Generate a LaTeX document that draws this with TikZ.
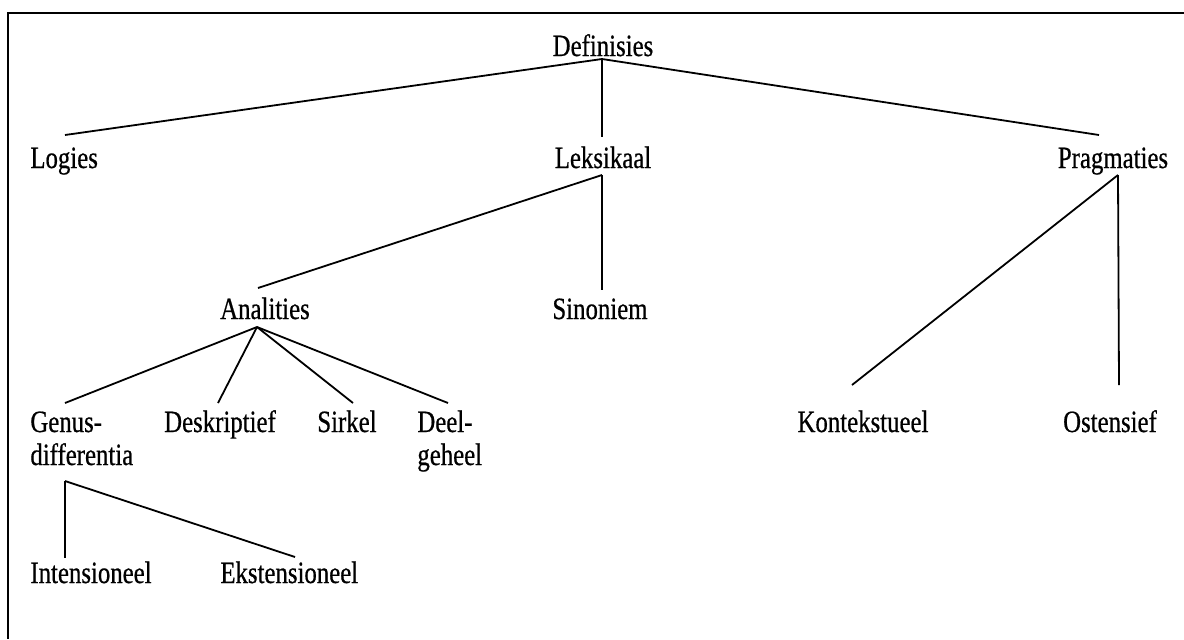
\documentclass[tikz,border=0pt]{standalone}
\usepackage{fontspec}
\setmainfont{Liberation Serif}[FakeStretch=0.8, FakeBold=0.6]
\usetikzlibrary{calc}

\tikzset{
	term/.style={inner sep=0pt, anchor=base, font=\fontsize{15.5pt}{16.5pt}\selectfont},
	termleft/.style={term, anchor=base west, align=left},
	branch/.style={line width=0.9pt},
}

\begin{document}
\begin{tikzpicture}[x=0.5pt, y=-0.5pt]
	%%%%% START %%%%%
	\useasboundingbox (0, 0) rectangle (1184, 639);
	\draw[line width=0.8pt] (1184, 13) -- (8, 13) -- (8, 639);
	
	\node[term] (def) at (603, 56) {Definisies};
	
	\node[termleft] (log) at (30, 168) {Logies};
	\node[term] (lek) at (603, 168) {Leksikaal};
	\node[term] (prag) at (1113, 168) {Pragmaties};
	
	\node[term] (anal) at (265, 319) {Analities};
	\node[term] (sin) at (600, 319) {Sinoniem};
	
	% base of a two-line label sits on its second line
	\node[termleft] (genus) at (30, 465) {Genus-\\differentia};
	\node[term] (desk) at (220, 432) {Deskriptief};
	\node[term] (sirk) at (347, 432) {Sirkel};
	\node[termleft] (deel) at (417, 465) {Deel-\\geheel};
	\node[term] (kont) at (863, 432) {Kontekstueel};
	\node[term] (ost) at (1110, 432) {Ostensief};
	
	\node[termleft] (int) at (30, 583) {Intensioneel};
	\node[termleft] (eks) at (220, 583) {Ekstensioneel};
	
	% joints
	\coordinate (def-b) at (602, 59);
	\coordinate (log-t) at (65, 135);
	\coordinate (lek-t) at (602, 137);
	\coordinate (prag-t) at (1099, 135);
	\coordinate (lek-b) at (602, 175);
	\coordinate (anal-t) at (258, 288);
	\coordinate (sin-t) at (602, 290);
	\coordinate (prag-b) at (1118, 175);
	\coordinate (kont-t) at (852, 385);
	\coordinate (ost-t) at (1119, 385);
	\coordinate (anal-b) at (257, 327);
	\coordinate (genus-t) at (65, 403);
	\coordinate (desk-t) at (218, 403);
	\coordinate (sirk-t) at (353, 403);
	\coordinate (deel-t) at (448, 403);
	\coordinate (genus-b) at (65, 481);
	\coordinate (int-t) at (65, 558);
	\coordinate (eks-t) at (295, 557);
	
	\draw[branch] (def-b) -- (log-t);
	\draw[branch] (def-b) -- (lek-t);
	\draw[branch] (def-b) -- (prag-t);
	
	\draw[branch] (lek-b) -- (anal-t);
	\draw[branch] (lek-b) -- (sin-t);
	\draw[branch] (prag-b) -- (kont-t);
	\draw[branch] (prag-b) -- (ost-t);
	
	\draw[branch] (anal-b) -- (genus-t);
	\draw[branch] (anal-b) -- (desk-t);
	\draw[branch] (anal-b) -- (sirk-t);
	\draw[branch] (anal-b) -- (deel-t);
	
	\draw[branch] (genus-b) -- (int-t);
	\draw[branch] (genus-b) -- (eks-t);
	%%%%% END %%%%%
\end{tikzpicture}
\end{document}
